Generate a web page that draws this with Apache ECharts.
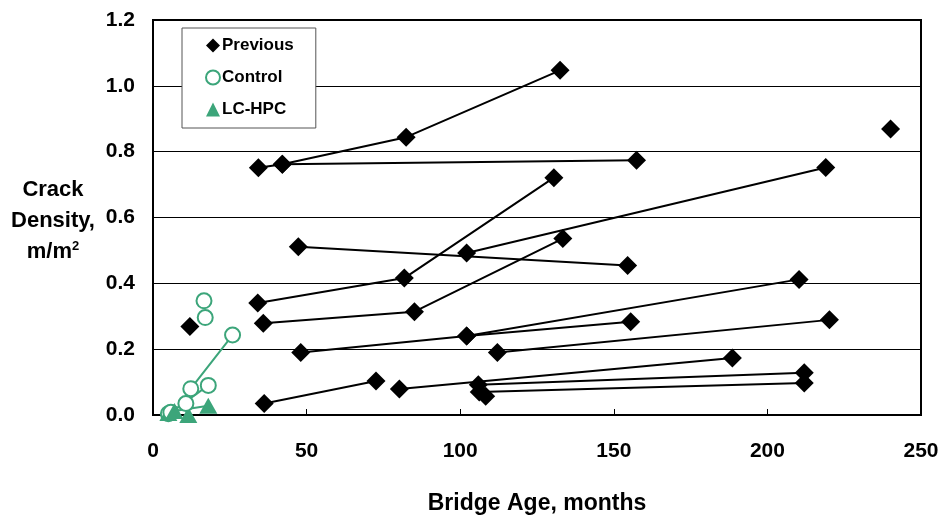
<!DOCTYPE html>
<html>
<head>
<meta charset="utf-8">
<script src="https://cdn.jsdelivr.net/npm/echarts@6/dist/echarts.min.js"></script>
<style>
  html, body { margin: 0; padding: 0; background: #fff; }
  #chart { width: 943px; height: 520px; }
</style>
</head>
<body>
<div id="chart"></div>
<script>
// age in months, crack density in m/m2 - one array per bridge (points joined by a line)
const prev1 = [[34.3, 0.751], [42.1, 0.762], [82.4, 0.844], [132.5, 1.047]];
const prev2 = [[42.1, 0.762], [157.4, 0.774]];
const prev3 = [[47.3, 0.511], [154.5, 0.454]];
const prev4 = [[34.1, 0.340], [81.8, 0.416], [130.5, 0.721]];
const prev5 = [[35.9, 0.279], [85.1, 0.314], [133.4, 0.536]];
const prev6 = [[102.1, 0.492], [219.0, 0.752]];
const prev7 = [[48.1, 0.190], [102.1, 0.240], [210.3, 0.412]];
const prev8 = [[102.1, 0.240], [155.5, 0.283]];
const prev9 = [[112.1, 0.190], [220.2, 0.289]];
const prev10 = [[36.2, 0.035], [72.6, 0.103]];
const prev11 = [[80.2, 0.079], [188.6, 0.173]];
const prev12 = [[105.9, 0.092], [212.0, 0.128]];
const prev13 = [[106.2, 0.070], [212.0, 0.097]];
const prevSingle = [[240.1, 0.869], [12.0, 0.269], [108.3, 0.057]];

const ctrl1 = [[10.7, 0.035], [12.3, 0.080], [25.9, 0.243]];
const ctrl2 = [[5.8, 0.008], [18.0, 0.090]];
const ctrlSingle = [[16.6, 0.347], [17.0, 0.296], [5.0, 0.004]];

const lchpc1 = [[7.0, 0.012], [18.0, 0.028]];
const lchpcSingle = [[5.0, 0.006], [11.5, 0.0]];

const xTicks = [0, 50, 100, 150, 200, 250];
const yTicks = [0, 0.2, 0.4, 0.6, 0.8, 1.0, 1.2];

const GREEN = '#3ca57a';
const FONT = '"Liberation Sans", Arial, sans-serif';

const prevStyle = {
  name: 'Previous',
  symbol: 'diamond',
  symbolSize: [19, 19],
  itemStyle: { color: '#000', opacity: 1 },
  lineStyle: { color: '#000', width: 2 }
};
const ctrlStyle = {
  name: 'Control',
  symbol: 'emptyCircle',
  symbolSize: 15,
  itemStyle: { color: GREEN, borderColor: GREEN, borderWidth: 2, opacity: 1 },
  lineStyle: { color: GREEN, width: 2 }
};
const lcStyle = {
  name: 'LC-HPC',
  symbol: 'triangle',
  symbolSize: [18, 16],
  itemStyle: { color: GREEN, opacity: 1 },
  lineStyle: { color: GREEN, width: 2 }
};

const series = [];
// joined points
[prev1, prev2, prev3, prev4, prev5, prev6, prev7, prev8, prev9, prev10, prev11, prev12, prev13].forEach((d) => {
  series.push(Object.assign({ type: 'line', data: d, clip: false }, prevStyle));
});
[ctrl1, ctrl2].forEach((d) => {
  series.push(Object.assign({ type: 'line', data: d, clip: false }, ctrlStyle));
});
series.push(Object.assign({ type: 'line', data: lchpc1, clip: false }, lcStyle));
// loose points
series.push(Object.assign({ type: 'scatter', data: prevSingle, clip: false }, prevStyle));
series.push(Object.assign({ type: 'scatter', data: ctrlSingle, clip: false }, ctrlStyle));
series.push(Object.assign({ type: 'scatter', data: lchpcSingle, clip: false }, lcStyle));

const chart = echarts.init(document.getElementById('chart'), null, { renderer: 'canvas' });
chart.setOption({
  animation: false,
  backgroundColor: '#fff',
  grid: {
    left: 153, right: 22, top: 20, bottom: 102,
    show: true, borderColor: '#000', borderWidth: 2, backgroundColor: 'transparent'
  },
  title: {
    text: 'Crack\nDensity,\nm/m{sup|2}',
    left: 48,
    top: 169,
    textAlign: 'center',
    textStyle: {
      fontFamily: FONT, fontWeight: 'bold', fontSize: 22, color: '#000', lineHeight: 31, align: 'center',
      rich: {
        sup: { fontFamily: FONT, fontWeight: 'bold', fontSize: 13, color: '#000', padding: [0, 0, 10, 0] }
      }
    }
  },
  legend: {
    orient: 'vertical',
    left: 182,
    top: 28,
    padding: [9, 22, 10, 23],
    itemGap: 15,
    itemWidth: 14,
    itemHeight: 14,
    backgroundColor: '#fff',
    borderColor: '#555',
    borderWidth: 1,
    borderRadius: 0,
    textStyle: { fontFamily: FONT, fontWeight: 'bold', fontSize: 17, color: '#000', padding: [0, 0, 0, -3] },
    data: [
      { name: 'Previous', icon: 'diamond', itemStyle: { color: '#000' } },
      { name: 'Control', icon: 'emptyCircle', itemStyle: { color: GREEN, borderColor: GREEN, borderWidth: 2 } },
      { name: 'LC-HPC', icon: 'triangle', itemStyle: { color: GREEN } }
    ]
  },
  xAxis: {
    type: 'value',
    min: xTicks[0],
    max: xTicks[xTicks.length - 1],
    interval: 50,
    name: 'Bridge Age, months',
    nameLocation: 'middle',
    nameGap: 77,
    nameTextStyle: { fontFamily: FONT, fontWeight: 'bold', fontSize: 23, color: '#000', verticalAlign: 'top' },
    axisLine: { show: true, lineStyle: { color: '#000', width: 2 } },
    axisTick: { show: true, inside: true, length: 6, lineStyle: { color: '#000', width: 1 } },
    axisLabel: { fontFamily: FONT, fontWeight: 'bold', fontSize: 21, color: '#000', margin: 26 },
    splitLine: { show: false }
  },
  yAxis: {
    type: 'value',
    min: yTicks[0],
    max: yTicks[yTicks.length - 1],
    interval: 0.2,
    axisLine: { show: true, lineStyle: { color: '#000', width: 2 } },
    axisTick: { show: true, inside: true, length: 6, lineStyle: { color: '#000', width: 1 } },
    axisLabel: {
      fontFamily: FONT, fontWeight: 'bold', fontSize: 21, color: '#000', margin: 18,
      formatter: (v) => v.toFixed(1)
    },
    splitLine: { show: true, lineStyle: { color: '#000', width: 1 } }
  },
  series: series
});
</script>
</body>
</html>
